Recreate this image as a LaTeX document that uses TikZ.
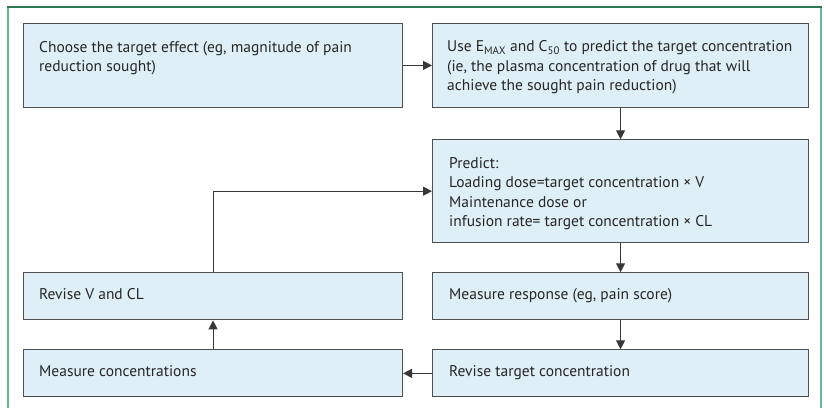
\documentclass[tikz,border=0pt]{standalone}
\usepackage{fontspec}
\setmainfont{PT Sans}
\usetikzlibrary{arrows.meta}
\definecolor{boxfill}{RGB}{222,239,247}
\definecolor{boxline}{RGB}{80,80,80}
\definecolor{frametop}{RGB}{46,120,78}
\definecolor{frameside}{RGB}{108,184,148}
\definecolor{arrowcol}{RGB}{55,55,55}
\begin{document}
\begin{tikzpicture}[x=1pt,y=-1pt,
  stepbox/.style={draw=boxline, fill=boxfill, line width=1.1pt, rectangle, inner sep=0pt, anchor=north west},
  boxtext/.style={anchor=base west, align=left, inner sep=0pt, text=black!85, font=\fontsize{15.5}{19.5}\selectfont},
  conn/.style={draw=arrowcol, line width=1.1pt, -{Triangle[length=9pt,width=9pt]}}]
\useasboundingbox (0,0) rectangle (826,408);
\draw[frameside, line width=1.2pt] (8,408) -- (8,7);
\draw[frameside, line width=1.2pt] (821,408) -- (821,7);
\draw[frametop, line width=1.2pt] (7.4,7) -- (821.6,7);
% boxes
\node[stepbox, minimum width=379pt, minimum height=84.3pt] (b1) at (23,22.7) {};
\node[stepbox, minimum width=376pt, minimum height=84.3pt] (b2) at (432,22.7) {};
\node[stepbox, minimum width=376pt, minimum height=102.7pt] (b3) at (432,139.3) {};
\node[stepbox, minimum width=376pt, minimum height=47pt] (b4) at (432,272.3) {};
\node[stepbox, minimum width=376pt, minimum height=47pt] (b5) at (432,349.3) {};
\node[stepbox, minimum width=379pt, minimum height=47pt] (b6) at (23,349.3) {};
\node[stepbox, minimum width=379pt, minimum height=47pt] (b7) at (23,272.3) {};
% texts (base anchor = baseline of the last line)
\node[boxtext] (t1) at ([shift={(16,49)}]b1.north west) {Choose the target effect (eg, magnitude of pain\\reduction sought)};
\node[boxtext] (t2) at ([shift={(15,68)}]b2.north west) {Use E\textsubscript{MAX} and C\textsubscript{50} to predict the target concentration\\(ie, the plasma concentration of drug that will\\achieve the sought pain reduction)};
\node[boxtext] (t3) at ([shift={(17,87.5)}]b3.north west) {Predict:\\Loading dose=target concentration × V\\Maintenance dose or\\infusion rate= target concentration × CL};
\node[boxtext] (t4) at ([shift={(17,27.5)}]b4.north west) {Measure response (eg, pain score)};
\node[boxtext] (t5) at ([shift={(17,27.5)}]b5.north west) {Revise target concentration};
\node[boxtext] (t6) at ([shift={(16,27.5)}]b6.north west) {Measure concentrations};
\node[boxtext] (t7) at ([shift={(16,27.5)}]b7.north west) {Revise V and CL};
% connectors
\draw[conn] (b1.east) -- (b2.west);
\draw[conn] (b2.south) -- (b3.north);
\draw[conn] (b3.south) -- (b4.north);
\draw[conn] (b4.south) -- (b5.north);
\draw[conn] (b5.west) -- (b6.east);
\draw[conn] (b6.north) -- (b7.south);
\draw[conn] (b7.north) |- (b3.west);
\end{tikzpicture}
\end{document}
